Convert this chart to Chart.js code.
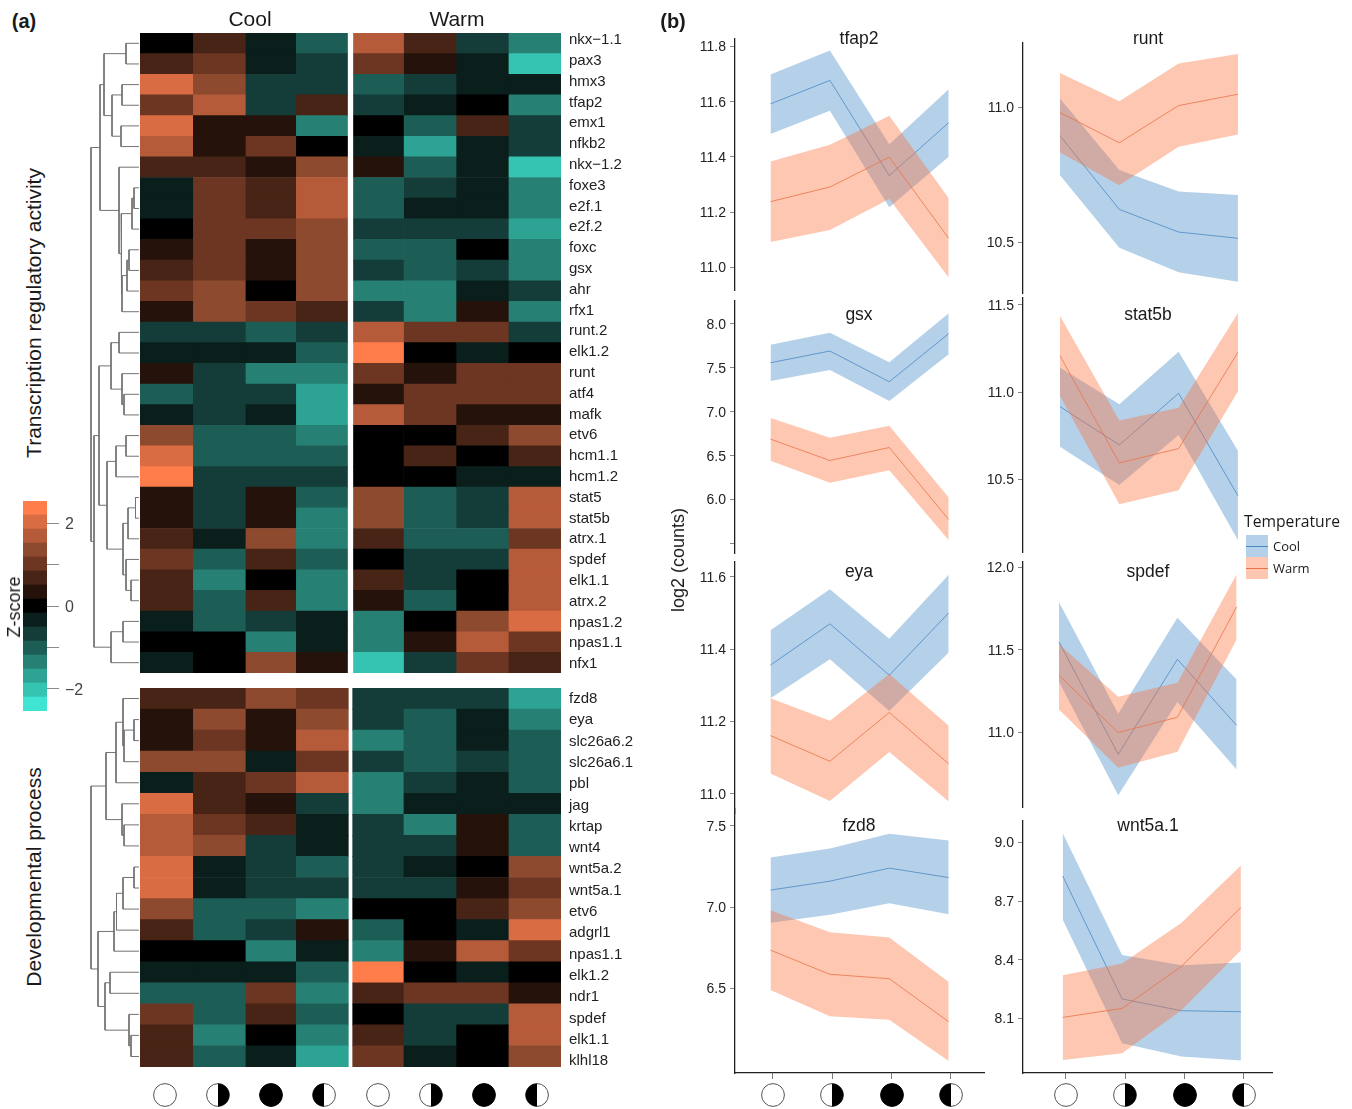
<!DOCTYPE html>
<html><head><meta charset="utf-8">
<script src="https://cdn.jsdelivr.net/npm/chart.js@4"></script>
<style>
html,body{margin:0;padding:0;background:#fff;width:1352px;height:1109px;overflow:hidden}
#stage{position:relative;width:1352px;height:1109px;font-family:"Liberation Sans",Arial,sans-serif;color:#1a1a1a}
canvas{position:absolute}
.t{position:absolute;white-space:nowrap;transform:translate(-50%,-50%);line-height:1}
.r{transform:translate(-50%,-50%) rotate(-90deg)}
svg{position:absolute;overflow:visible}
</style></head><body><div id="stage"></div>
<script>
/* ---------- heatmap data: binned z-score level (-7..7, one bin = 0.338 z) ---------- */
const phases=['new','first','full','last'];
const genesTranscription=['nkx\u22121.1','pax3','hmx3','tfap2','emx1','nfkb2','nkx\u22121.2','foxe3','e2f.1','e2f.2','foxc','gsx','ahr','rfx1','runt.2','elk1.2','runt','atf4','mafk','etv6','hcm1.1','hcm1.2','stat5','stat5b','atrx.1','spdef','elk1.1','atrx.2','npas1.2','npas1.1','nfx1'];
const coolTranscription=[[0,2,-1,-3],[2,3,-1,-2],[6,4,-2,-2],[3,5,-2,2],[6,1,1,-4],[5,1,3,0],[2,2,1,4],[-1,3,2,5],[-1,3,2,5],[0,3,3,4],[1,3,1,4],[2,3,1,4],[3,4,0,4],[1,4,3,2],[-2,-2,-3,-2],[-1,-1,-1,-3],[1,-2,-4,-4],[-3,-2,-2,-5],[-1,-2,-1,-5],[4,-3,-3,-4],[6,-3,-3,-3],[7,-2,-2,-2],[1,-2,1,-3],[1,-2,1,-4],[2,-1,4,-4],[3,-3,2,-3],[2,-4,0,-4],[2,-3,2,-4],[-1,-3,-2,-1],[0,0,-4,-1],[-1,0,4,1]];
const warmTranscription=[[5,2,-2,-4],[3,1,-1,-6],[-3,-2,-1,-1],[-2,-1,0,-4],[0,-3,2,-2],[-1,-5,-1,-2],[1,-3,-1,-6],[-3,-2,-1,-4],[-3,-1,-1,-4],[-2,-2,-2,-5],[-3,-3,0,-4],[-2,-3,-2,-4],[-4,-4,-1,-2],[-2,-4,1,-4],[5,3,3,-2],[7,0,-1,0],[3,1,3,3],[1,3,3,3],[5,3,1,1],[0,0,2,4],[0,2,0,2],[0,0,-1,-1],[4,-3,-2,5],[4,-3,-2,5],[2,-3,-3,3],[0,-2,-2,5],[2,-2,0,5],[1,-3,0,5],[-4,0,4,6],[-4,1,5,3],[-6,-2,3,2]];
const genesDevelopment=['fzd8','eya','slc26a6.2','slc26a6.1','pbl','jag','krtap','wnt4','wnt5a.2','wnt5a.1','etv6','adgrl1','npas1.1','elk1.2','ndr1','spdef','elk1.1','klhl18'];
const coolDevelopment=[[2,2,4,3],[1,4,1,4],[1,3,1,5],[4,4,-1,3],[-1,2,3,5],[6,2,1,-2],[5,3,2,-1],[5,4,-2,-1],[6,-1,-2,-3],[6,-1,-2,-2],[4,-3,-3,-4],[2,-3,-2,1],[0,0,-4,-1],[-1,-1,-1,-3],[-3,-3,3,-4],[3,-3,2,-3],[2,-4,0,-4],[2,-3,-1,-5]];
const warmDevelopment=[[-2,-2,-2,-5],[-2,-3,-1,-4],[-4,-3,-1,-3],[-2,-3,-2,-3],[-4,-2,-1,-3],[-4,-1,-1,-1],[-2,-4,1,-3],[-2,-2,1,-3],[-2,-1,0,4],[-2,-2,1,3],[0,0,2,4],[-3,0,-1,6],[-4,1,5,3],[7,0,-1,0],[2,3,3,1],[0,-2,-2,5],[2,-2,0,5],[3,-1,0,4]];
const levelColors=['#3fe5d2','#35c4b2','#2ca393','#268074','#1c5e56','#143c38','#0a1f1c','#000000','#25120a','#472415','#6c3622','#8e4a2f','#b65b3a','#da6c44','#ff7d4b'];
const legendLevels=[-7,-6,-5,-4,-3,-2,-1,0,1,2,3,4,5,6,7];
/* dendrograms: [height, childA, childB]; a number is a row index */
const treeTranscription=[48,[39,[35,[13,0,1],[27,[17,2,3],[18,4,5]]],[20,6,[18,[7,[5,7,8],9],[17,[12,[10,10,11],12],13]]]],[45,[40,[28,[20,14,15],[17,16,[15,17,18]]],[32,[23,[13,19,20],21],[16,[11,[3.5,22,23],24],[13,25,[8,26,27]]]]],[28,[16,28,29],30]]];
const treeDevelopment=[48,[33,[23,[16,0,[15,[5,1,2],3]],4],[17,5,[15,6,7]]],[41,[25,[22.5,[16,[5,8,9],10],11],12],[34,[29,13,14],[10,15,[8,16,17]]]]];
/* ---------- line panel data: mean and ribbon bounds ---------- */
const tfap2Cool=[11.592,11.677,11.332,11.524],tfap2CoolHi=[11.698,11.785,11.446,11.645],tfap2CoolLo=[11.483,11.567,11.218,11.401];
const tfap2Warm=[11.238,11.291,11.399,11.105],tfap2WarmHi=[11.383,11.444,11.549,11.250],tfap2WarmLo=[11.092,11.135,11.248,10.963];
const runtCool=[10.895,10.622,10.538,10.515],runtCoolHi=[11.033,10.768,10.688,10.675],runtCoolLo=[10.749,10.480,10.389,10.354];
const runtWarm=[10.981,10.869,11.007,11.049],runtWarmHi=[11.128,11.023,11.163,11.198],runtWarmLo=[10.833,10.712,10.854,10.900];
const gsxCool=[7.559,7.692,7.342,7.890],gsxCoolHi=[7.764,7.901,7.563,8.122],gsxCoolLo=[7.350,7.475,7.122,7.654];
const gsxWarm=[6.688,6.445,6.593,5.772],gsxWarmHi=[6.928,6.703,6.840,6.023],gsxWarmLo=[6.441,6.190,6.335,5.536];
const stat5bCool=[10.917,10.697,10.993,10.406],stat5bCoolHi=[11.141,10.930,11.232,10.664],stat5bCoolLo=[10.687,10.467,10.754,10.152];
const stat5bWarm=[11.209,10.594,10.676,11.228],stat5bWarmHi=[11.437,10.837,10.911,11.452],stat5bWarmLo=[10.978,10.357,10.437,11.003];
const eyaCool=[11.356,11.470,11.328,11.500],eyaCoolHi=[11.452,11.566,11.429,11.606],eyaCoolLo=[11.264,11.372,11.229,11.391];
const eyaWarm=[11.161,11.090,11.225,11.083],eyaWarmHi=[11.264,11.202,11.331,11.188],eyaWarmLo=[11.056,10.980,11.116,10.979];
const spdefCool=[11.549,10.866,11.443,11.042],spdefCoolHi=[11.789,11.113,11.696,11.320],spdefCoolLo=[11.306,10.617,11.184,10.773];
const spdefWarm=[11.346,10.998,11.091,11.761],spdefWarmHi=[11.534,11.215,11.300,11.960],spdefWarmLo=[11.138,10.785,10.881,11.563];
const fzd8Cool=[7.105,7.160,7.240,7.182],fzd8CoolHi=[7.305,7.361,7.451,7.410],fzd8CoolLo=[6.904,6.953,7.025,6.957];
const fzd8Warm=[6.736,6.588,6.561,6.297],fzd8WarmHi=[6.982,6.846,6.814,6.541],fzd8WarmLo=[6.492,6.330,6.309,6.055];
const wnt5aCool=[8.828,8.200,8.140,8.135],wnt5aCoolHi=[9.046,8.425,8.372,8.386],wnt5aCoolLo=[8.606,7.974,7.906,7.886];
const wnt5aWarm=[8.106,8.152,8.367,8.667],wnt5aWarmHi=[8.321,8.381,8.589,8.882],wnt5aWarmLo=[7.889,7.923,8.142,8.449];
const ticksTfap2=[11,11.2,11.4,11.6,11.8],ticksRunt=[10.5,11],ticksGsx=[5.5,6,6.5,7,7.5,8],ticksStat5b=[10.5,11,11.5],ticksEya=[11,11.2,11.4,11.6],ticksSpdef=[11,11.5,12],ticksFzd8=[6.5,7,7.5],ticksWnt5a=[8.1,8.4,8.7,9];

/* ---------- layout ---------- */
const stage=document.getElementById('stage');
const FONT='"Liberation Sans",Arial,sans-serif';
function cv(l,t,w,h){const c=document.createElement('canvas');c.width=w;c.height=h;c.style.left=l+'px';c.style.top=t+'px';c.style.width=w+'px';c.style.height=h+'px';stage.appendChild(c);return c.getContext('2d');}
function text(s,x,y,size,o){o=o||{};const d=document.createElement('div');d.className='t'+(o.rot?' r':'');d.textContent=s;d.style.left=x+'px';d.style.top=y+'px';d.style.fontSize=size+'px';if(o.bold)d.style.fontWeight='bold';if(o.font)d.style.fontFamily=o.font;if(o.color)d.style.color=o.color;if(o.left)d.style.transform='translate(0,-50%)';stage.appendChild(d);}
const base={animation:false,responsive:false,devicePixelRatio:1,events:[],plugins:{legend:{display:false},title:{display:false},tooltip:{enabled:false}}};
const noPad=s=>{s.paddingTop=0;s.paddingBottom=0;s.paddingLeft=0;s.paddingRight=0;};

/* ---------- heatmap ---------- */
const color=l=>levelColors[l+7];
function heat(levels,edges,left,top,width,height,labels,labelFirstY,labelLastY){
  const n=levels.length,pad=10,lw=labels?90:0;
  const rowH=height/n;
  const datasets=phases.map((_,c)=>({
    data:levels.map((row,i)=>({x:(edges[c]+edges[c+1])/2,y:[i,i+1]})),
    backgroundColor:levels.map(row=>color(row[c])),
    borderWidth:0,grouped:false,barThickness:edges[c+1]-edges[c]}));
  const scales={
    x:{type:'linear',min:left,max:left+width,offset:false,display:false},
    y:{type:'linear',min:0,max:n,reverse:true,display:false}
  };
  if(labels){
    scales.y={type:'linear',min:0,max:n,reverse:true,display:true,position:'right',
      grid:{display:false},border:{display:false},
      afterBuildTicks:s=>{s.ticks=labels.map((_,i)=>({value:(labelFirstY+i*(labelLastY-labelFirstY)/(n-1)-top)/rowH}));},
      afterFit:s=>{s.width=lw;noPad(s);},
      ticks:{autoSkip:false,padding:0,color:'#222',font:{family:FONT,size:15},callback:(v,i)=>labels[i]}};
  }
  new Chart(cv(left,top-pad,width+lw,height+2*pad),{type:'bar',data:{datasets},
    options:Object.assign({},base,{layout:{padding:{top:pad,bottom:pad}},scales})});
}
const coolEdgesTop=[140,192.7,245.3,295.7,347.5],warmEdgesTop=[353.5,403.5,456,508.3,561];
const coolEdgesBottom=[140,192.7,245.3,295.7,348.3],warmEdgesBottom=[352.7,403.3,456,508.3,561];
heat(coolTranscription,coolEdgesTop,140,33,208,640);
heat(warmTranscription,warmEdgesTop,353,33,208,640,genesTranscription,40,664);
heat(coolDevelopment,coolEdgesBottom,140,688,209,379);
heat(warmDevelopment,warmEdgesBottom,352,688,209,379,genesDevelopment,699,1061);

/* ---------- dendrograms ---------- */
function treePath(node,out){
  if(typeof node==='number')return {y:node+0.5,h:0};
  const a=treePath(node[1],out),b=treePath(node[2],out),h=node[0];
  out.push({x:a.h,y:a.y},{x:h,y:a.y},{x:h,y:b.y},{x:b.h,y:b.y},{x:null,y:null});
  return {y:(a.y+b.y)/2,h};
}
function dendro(tree,n,top,height){
  const pts=[];treePath(tree,pts);
  new Chart(cv(89,top,50,height),{type:'scatter',data:{datasets:[{data:pts,showLine:true,spanGaps:false,pointRadius:0,borderColor:'#737373',borderWidth:1,clip:false}]},
    options:Object.assign({},base,{scales:{x:{type:'linear',min:0,max:50,reverse:true,display:false},y:{type:'linear',min:0,max:n,reverse:true,display:false}}})});
}
dendro(treeTranscription,31,33,640);
dendro(treeDevelopment,18,688,379);

/* ---------- colour legend ---------- */
(function(){
  const binZ=0.338,pad=10;
  const datasets=legendLevels.map(l=>({data:[[(l-0.5)*binZ,(l+0.5)*binZ]],backgroundColor:color(l),borderWidth:0,grouped:false,barPercentage:1,categoryPercentage:1}));
  new Chart(cv(23,501-pad,24+45,210+2*pad),{type:'bar',data:{labels:['z'],datasets},options:Object.assign({},base,{
    layout:{padding:{top:pad,bottom:pad}},
    scales:{x:{type:'category',display:false},
      y:{type:'linear',position:'right',min:-7.5*binZ,max:7.5*binZ,
        afterBuildTicks:s=>{s.ticks=[-2,-1,0,1,2].map(value=>({value}));},
        afterFit:s=>{s.width=45;noPad(s);},
        border:{display:false},
        grid:{drawOnChartArea:false,tickLength:12,color:'#8a8a8a',tickColor:'#8a8a8a'},
        ticks:{autoSkip:false,padding:6,labelOffset:1.5,color:'#444',font:{family:FONT,size:16},callback:v=>v%2===0?(v<0?'\u2212'+(-v):String(v)):''}}}
  })});
})();

/* ---------- line panels ---------- */
const COOL_BAND='rgba(70,140,200,0.4)',WARM_BAND='rgba(250,115,62,0.4)',COOL_LINE='#4a88c4',WARM_LINE='#e8734a';
function panel(p){
  const padV=10,yw=52,xh=p.bottomAxis?10:0,w=p.right-p.left;
  const pts=a=>a.map((y,i)=>({x:i,y}));
  const line=(a,c)=>({data:pts(a),borderColor:c,borderWidth:0.8,pointRadius:0,fill:false,tension:0});
  const up=(a,c)=>({data:pts(a),borderWidth:0,borderColor:'transparent',pointRadius:0,backgroundColor:c,fill:'+1',tension:0});
  const lo=a=>({data:pts(a),borderWidth:0,borderColor:'transparent',pointRadius:0,fill:false,tension:0});
  const datasets=[line(p.warm[0],WARM_LINE),up(p.warm[1],WARM_BAND),lo(p.warm[2]),line(p.cool[0],COOL_LINE),up(p.cool[1],COOL_BAND),lo(p.cool[2])];
  const xmin=-(p.x0-p.left)/p.dx,xmax=(p.right-p.x0)/p.dx;
  new Chart(cv(p.left-yw,p.top-padV,w+yw,p.bottom-p.top+2*padV+xh),{type:'line',data:{datasets},options:Object.assign({},base,{
    layout:{padding:{top:padV,bottom:padV}},
    scales:{
      x:{type:'linear',min:xmin,max:xmax,display:!!p.bottomAxis,
        afterBuildTicks:s=>{s.ticks=[0,1,2,3].map(i=>({value:i+(p.tickShift||0)/p.dx}));},
        afterFit:s=>{s.height=xh;noPad(s);},
        border:{color:'#222',width:1.3},
        grid:{drawOnChartArea:false,tickLength:6,color:'#777',tickColor:'#777'},
        ticks:{autoSkip:false,maxRotation:0,callback:()=>''}},
      y:{type:'linear',min:p.min,max:p.max,
        afterBuildTicks:s=>{s.ticks=p.ticks.map(value=>({value}));},
        afterFit:s=>{s.width=yw;noPad(s);},
        border:{color:'#222',width:1.3},
        grid:{drawOnChartArea:false,tickLength:5,color:'#888',tickColor:'#888'},
        ticks:{autoSkip:false,padding:4,labelOffset:1,color:'#222',font:{family:FONT,size:14},callback:v=>p.hide===v?'':v.toFixed(1)}}}
  })});
  text(p.name,p.titleX,p.titleY,17.5);
}
panel({name:'tfap2',left:735,right:985,top:39,bottom:290,min:10.918,max:11.827,x0:770.5,dx:59.4,titleX:859,titleY:39,ticks:ticksTfap2,cool:[tfap2Cool,tfap2CoolHi,tfap2CoolLo],warm:[tfap2Warm,tfap2WarmHi,tfap2WarmLo]});
panel({name:'runt',left:1023,right:1273,top:43,bottom:293,min:10.312,max:11.239,x0:1060,dx:59.3,titleX:1148,titleY:39,ticks:ticksRunt,cool:[runtCool,runtCoolHi,runtCoolLo],warm:[runtWarm,runtWarmHi,runtWarmLo]});
panel({name:'gsx',left:735,right:985,top:301,bottom:553,min:5.391,max:8.262,x0:770.5,dx:59.4,titleX:859,titleY:315,ticks:ticksGsx,hide:5.5,cool:[gsxCool,gsxCoolHi,gsxCoolLo],warm:[gsxWarm,gsxWarmHi,gsxWarmLo]});
panel({name:'stat5b',left:1023,right:1273,top:298,bottom:552,min:10.083,max:11.54,x0:1060,dx:59.3,titleX:1148,titleY:315,ticks:ticksStat5b,cool:[stat5bCool,stat5bCoolHi,stat5bCoolLo],warm:[stat5bWarm,stat5bWarmHi,stat5bWarmLo]});
panel({name:'eya',left:735,right:985,top:562,bottom:813,min:10.947,max:11.641,x0:770.5,dx:59.4,titleX:859,titleY:572,ticks:ticksEya,cool:[eyaCool,eyaCoolHi,eyaCoolLo],warm:[eyaWarm,eyaWarmHi,eyaWarmLo]});
panel({name:'spdef',left:1023,right:1273,top:562,bottom:807,min:10.546,max:12.034,x0:1059,dx:59.2,titleX:1148,titleY:572,ticks:ticksSpdef,cool:[spdefCool,spdefCoolHi,spdefCoolLo],warm:[spdefWarm,spdefWarmHi,spdefWarmLo]});
panel({name:'fzd8',left:735,right:985,top:809,bottom:1073,min:5.982,max:7.603,x0:770.5,dx:59.4,tickShift:2.2,bottomAxis:true,titleX:859,titleY:826,ticks:ticksFzd8,cool:[fzd8Cool,fzd8CoolHi,fzd8CoolLo],warm:[fzd8Warm,fzd8WarmHi,fzd8WarmLo]});
panel({name:'wnt5a.1',left:1023,right:1273,top:821,bottom:1073,min:7.822,max:9.109,x0:1062.7,dx:59.4,tickShift:3,bottomAxis:true,titleX:1148,titleY:826,ticks:ticksWnt5a,cool:[wnt5aCool,wnt5aCoolHi,wnt5aCoolLo],warm:[wnt5aWarm,wnt5aWarmHi,wnt5aWarmLo]});

/* ---------- text ---------- */
text('(a)',24,21,20,{bold:true});
text('(b)',673,21,20,{bold:true});
text('Cool',250,18,21);
text('Warm',457,18,21);
text('Transcription regulatory activity',33,312.5,21,{rot:true});
text('Developmental process',33,877,21,{rot:true});
text('log2 (counts)',678,560,18,{rot:true});
text('Z-score',14,607,18,{rot:true});

/* ---------- legend for temperature ---------- */
function box(l,t,w,h,c){const d=document.createElement('div');d.style.cssText=`position:absolute;left:${l}px;top:${t}px;width:${w}px;height:${h}px;background:${c}`;stage.appendChild(d);}
box(1246,535,22,22,'#b5d1e9');box(1246,546,22,1,COOL_LINE);
box(1246,557,22,22,'#fdc7b2');box(1246,568,22,1,WARM_LINE);
text('Temperature',1244,522,15.7,{left:true,font:'"Open Sans",sans-serif'});
text('Cool',1273,546,13,{left:true,font:'"Open Sans",sans-serif'});
text('Warm',1273,568,13,{left:true,font:'"Open Sans",sans-serif'});

/* ---------- moon phase icons ---------- */
function moon(cx,cy,kind){
  const r=11.4,ns='http://www.w3.org/2000/svg',s=document.createElementNS(ns,'svg');
  s.setAttribute('width',1);s.setAttribute('height',1);s.style.left=cx+'px';s.style.top=cy+'px';
  const add=(tag,a)=>{const e=document.createElementNS(ns,tag);for(const k in a)e.setAttribute(k,a[k]);s.appendChild(e);};
  add('circle',{cx:0,cy:0,r,fill:kind==='full'?'#000':'#fff',stroke:kind==='full'?'#000':'#555','stroke-width':1});
  if(kind==='first')add('path',{d:`M0 ${-r}A${r} ${r} 0 0 1 0 ${r}Z`,fill:'#000'});
  if(kind==='last')add('path',{d:`M0 ${-r}A${r} ${r} 0 0 0 0 ${r}Z`,fill:'#000'});
  stage.appendChild(s);
}
[164.7,218,271,323.7,378.3,431,484.3,537].forEach((x,i)=>moon(x,1095,phases[i%4]));
[772.7,832.3,891.7,951,1065.7,1125.3,1184.7,1244.3].forEach((x,i)=>moon(x,1095,phases[i%4]));
</script></body></html>
